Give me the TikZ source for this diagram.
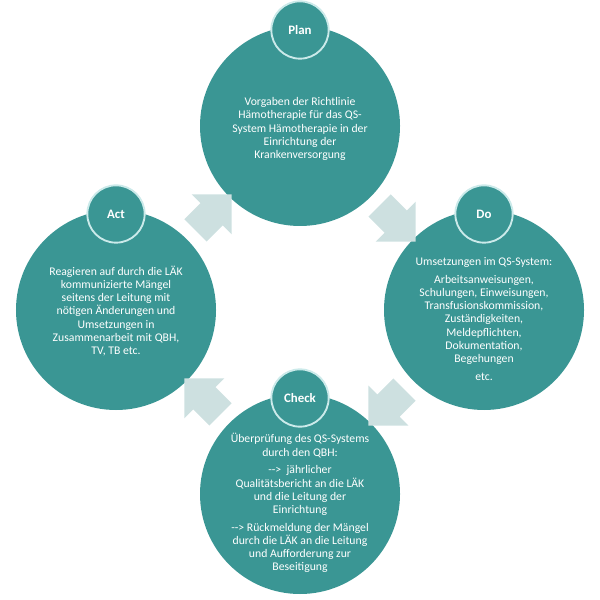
\documentclass[tikz,border=0pt]{standalone}
\usepackage{fontspec}
\setmainfont{Carlito}
\usepackage{tikz}
\usetikzlibrary{calc,positioning,shapes.arrows}
\definecolor{teal}{HTML}{3A9694}
\definecolor{paleteal}{HTML}{CDE0E0}
\definecolor{ringteal}{HTML}{CBEAEA}

\begin{document}
\begin{tikzpicture}[x=0.03cm,y=0.03cm,
  phase/.style={circle,fill=teal,minimum size=6cm,inner sep=0pt},
  tag/.style={circle,fill=teal,draw=ringteal,line width=1.6pt,minimum size=1.72cm,inner sep=0pt,text=white,font=\fontsize{11}{13}\selectfont\bfseries},
  body/.style={text=white,align=center,font=\fontsize{10}{11.2}\selectfont},
  turn/.style={single arrow,fill=paleteal,minimum height=1.53cm,inner xsep=0pt,inner ysep=0.465cm,single arrow head extend=0.375cm}]
  \useasboundingbox (0,0) rectangle (600,600);
  % the four phases
  \node[phase] (plan) at (300,474) {};
  \node[phase] (do) at (484,290) {};
  \node[phase] (check) at (300,106) {};
  \node[phase] (act) at (116,290) {};
  % arrows between the phases, clockwise
  \node[turn,rotate=-45] (plantodo) at ($(plan)!0.5!(do)$) {};
  \node[turn,rotate=-135] (dotocheck) at ($(do)!0.5!(check)$) {};
  \node[turn,rotate=135] (checktoact) at ($(check)!0.5!(act)$) {};
  \node[turn,rotate=45] (acttoplan) at ($(act)!0.5!(plan)$) {};
  % small heading circles
  \node[tag] (plantag) at ($(plan)+(0,96)$) {Plan};
  \node[tag] (dotag) at ($(do)+(0,96)$) {Do};
  \node[tag] (checktag) at ($(check)+(0,96)$) {Check};
  \node[tag] (acttag) at ($(act)+(0,96)$) {Act};
  % texts
  \node[body] (plantext) at ($(plan)+(0,-3)$) {Vorgaben der Richtlinie\\Hämotherapie für das QS-\\System Hämotherapie in der\\Einrichtung der\\Krankenversorgung};
  \node[body] (dotext) at ($(do)+(0,-9)$) {Umsetzungen im QS-System:\\[4pt]
    Arbeitsanweisungen,\\Schulungen, Einweisungen,\\Transfusionskommission,\\Zuständigkeiten,\\Meldepflichten,\\Dokumentation,\\Begehungen\\[4pt]
    etc.};
  \node[body] (checktext) at ($(check)+(0,-9)$) {Überprüfung des QS-Systems\\durch den QBH:\\[4pt]
    {-}{-}>\ \ jährlicher\\Qualitätsbericht an die LÄK\\und die Leitung der\\Einrichtung\\[4pt]
    {-}{-}> Rückmeldung der Mängel\\durch die LÄK an die Leitung\\und Aufforderung zur\\Beseitigung};
  \node[body] (acttext) at ($(act)+(0,-1)$) {Reagieren auf durch die LÄK\\kommunizierte Mängel\\seitens der Leitung mit\\nötigen Änderungen und\\Umsetzungen in\\Zusammenarbeit mit QBH,\\TV, TB etc.};
\end{tikzpicture}
\end{document}
